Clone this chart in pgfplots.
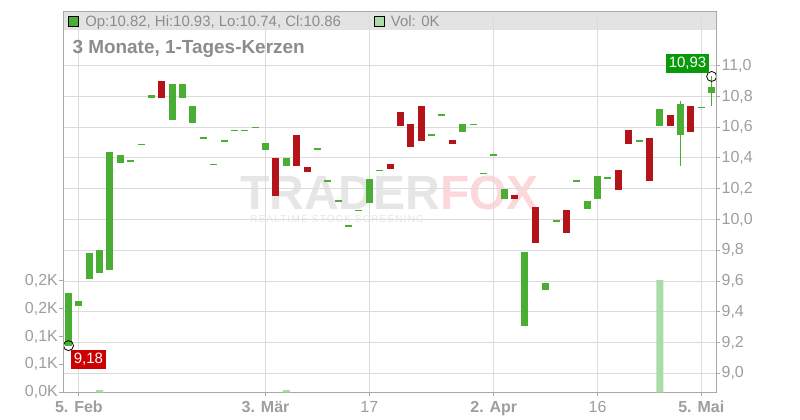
\documentclass[border=0pt]{standalone}
\usepackage{pgfplots}
\pgfplotsset{compat=1.18}
\usepackage{pgfplotstable}
\usepackage{fontspec}
\setmainfont{Liberation Sans}
\definecolor{cgreen}{HTML}{4AAE34}
\definecolor{cred}{HTML}{B41419}
\definecolor{cvol}{HTML}{AADCA8}
\definecolor{cgrid}{HTML}{DCDCDC}
\definecolor{caxis}{HTML}{A8A8A8}
\definecolor{clab}{HTML}{9E9E9E}
\definecolor{ctext}{HTML}{8C8C8C}
\definecolor{cband}{HTML}{E3E3E3}
\definecolor{cwm}{HTML}{E6E6E6}
\definecolor{cwmfox}{HTML}{FCD8DB}
\definecolor{clgreen}{HTML}{089A08}
\definecolor{clred}{HTML}{CC0000}

\pgfplotstableread{
i o c
0 9.18 9.52
1 9.44 9.47
2 9.61 9.78
3 9.65 9.80
4 9.67 10.44
5 10.37 10.42
6 10.38 10.38
7 10.49 10.49
8 10.79 10.81
10 10.65 10.88
11 10.79 10.88
12 10.63 10.74
13 10.53 10.53
14 10.36 10.36
15 10.51 10.51
16 10.58 10.58
17 10.58 10.58
18 10.60 10.60
19 10.45 10.50
21 10.35 10.40
24 10.46 10.46
25 10.25 10.25
26 10.12 10.12
27 9.96 9.96
28 10.06 10.06
29 10.11 10.26
30 10.32 10.32
35 10.55 10.55
36 10.68 10.68
38 10.57 10.62
39 10.62 10.62
40 10.30 10.30
41 10.42 10.42
42 10.13 10.20
44 9.31 9.79
46 9.54 9.59
47 9.99 9.99
49 10.25 10.25
50 10.07 10.12
51 10.13 10.28
52 10.27 10.27
55 10.51 10.51
57 10.61 10.72
59 10.55 10.75
61 10.73 10.73
62 10.82 10.86
}\greentab

\pgfplotstableread{
i o c
9 10.90 10.79
20 10.40 10.15
22 10.55 10.35
23 10.34 10.31
31 10.36 10.33
32 10.70 10.61
33 10.62 10.47
34 10.74 10.51
37 10.52 10.49
43 10.16 10.13
45 10.08 9.85
48 10.06 9.91
53 10.32 10.19
54 10.58 10.49
56 10.53 10.25
58 10.68 10.61
60 10.74 10.57
}\redtab

\pgfplotstableread{
i h l
59 10.77 10.35
62 10.93 10.74
}\wicktab

\pgfplotstableread{
i v
3 4
21 4
57 201
}\voltab

\pgfplotsset{
  base/.style={
    scale only axis, width=489.375pt, height=285.45pt,
    at={(47.625pt,20.775pt)}, anchor=south west,
    xmin=-0.482, xmax=62.42,
    axis line style={color=caxis, line width=0.75pt},
    tick style={color=caxis, line width=0.75pt},
    tick align=outside, major tick length=3pt,
    ticklabel style={font=\fontsize{12pt}{14pt}\selectfont, color=clab},
  }
}

\begin{document}
\begin{tikzpicture}[x=1pt,y=1pt]
\path[use as bounding box] (0,0) rectangle (600,315);
\fill[cband] (47.625,292.5) rectangle (537,306.2);
% watermark
\node[anchor=base west, inner sep=0pt, text depth=0pt, font=\fontsize{36pt}{38pt}\selectfont\bfseries] at (180,157.5)
  {\textcolor{cwm}{TRADER}\textcolor{cwmfox}{FOX}};
\node[anchor=base west, inner sep=0pt, text height=5.5pt, text=cwm, font=\fontsize{7.5pt}{8pt}\selectfont\addfontfeature{LetterSpace=12}] at (187.5,147.8)
  {REALTIME STOCK SCREENING};

\begin{axis}[base,
  ymin=8.8765, ymax=11.351,
  ytick={9,9.2,9.4,9.6,9.8,10,10.2,10.4,10.6,10.8,11},
  yticklabels={9{,}0,9{,}2,9{,}4,9{,}6,9{,}8,10{,}0,10{,}2,10{,}4,10{,}6,10{,}8,11{,}0},
  ytick pos=right, yticklabel pos=right,
  xtick={1,19,29,41,51,61},
  xticklabels={\textbf{5. Feb},\textbf{3. Mär},17,\textbf{2. Apr},16,\textbf{5. Mai}},
  xtick pos=left,
  grid=major, grid style={color=cgrid, line width=0.75pt},
  yticklabel style={inner xsep=1pt},
]
% wicks
\addplot[draw=none, mark=none, forget plot,
  error bars/.cd, y dir=both, y explicit, error mark=none,
  error bar style={draw=cgreen, line width=0.8pt}]
  table[x=i, y expr={(\thisrow{h}+\thisrow{l})/2}, y error expr={(\thisrow{h}-\thisrow{l})/2}] {\wicktab};
% green bodies
\addplot[draw=none, mark=none, forget plot,
  error bars/.cd, y dir=both, y explicit, error mark=none,
  error bar style={draw=cgreen, line width=5.25pt}]
  table[x=i, y expr={(\thisrow{o}+\thisrow{c})/2}, y error expr={max(abs(\thisrow{c}-\thisrow{o})/2,0.0036)}] {\greentab};
% red bodies
\addplot[draw=none, mark=none, forget plot,
  error bars/.cd, y dir=both, y explicit, error mark=none,
  error bar style={draw=cred, line width=5.25pt}]
  table[x=i, y expr={(\thisrow{o}+\thisrow{c})/2}, y error expr={max(abs(\thisrow{c}-\thisrow{o})/2,0.0036)}] {\redtab};
% high marker
\addplot[only marks, mark=o, mark size=3.75pt, black, line width=0.6pt,
  point meta=explicit symbolic, nodes near coords,
  every node near coord/.append style={anchor=south east, xshift=-1.5pt, yshift=2.5pt,
    fill=clgreen, text=white, inner xsep=2.2pt, inner ysep=0pt, minimum height=14.25pt,
    font=\fontsize{11.25pt}{13pt}\selectfont}]
  table[x=i, y=p, meta=t] {
i p t
62 10.93 10,93
};
% low marker
\addplot[only marks, mark=o, mark size=3.75pt, black, line width=0.6pt,
  point meta=explicit symbolic, nodes near coords,
  every node near coord/.append style={anchor=north west, xshift=1.5pt, yshift=-3pt,
    fill=clred, text=white, inner xsep=2.2pt, inner ysep=0pt, minimum height=14.25pt,
    font=\fontsize{11.25pt}{13pt}\selectfont}]
  table[x=i, y=p, meta=t] {
i p t
0 9.18 9,18
};
\end{axis}

\begin{axis}[base,
  ymin=0, ymax=682,
  ytick={0,50,100,150,200},
  yticklabels={0{,}0K,0{,}1K,0{,}1K,0{,}2K,0{,}2K},
  ytick pos=left, yticklabel pos=left,
  xtick=\empty,
  yticklabel style={inner xsep=1pt},
]
\addplot[ybar, bar width=5.25pt, fill=cvol, draw=none] table[x=i, y=v] {\voltab};
\end{axis}

% legend band content and title
\draw[black, line width=0.75pt, fill=cgreen] (51,294.75) rectangle (58.5,302.25);
\node[anchor=base west, inner sep=0pt, text=ctext, font=\fontsize{11.2pt}{13pt}\selectfont] at (63.75,295.1)
  {Op:10.82, Hi:10.93, Lo:10.74, Cl:10.86};
\draw[black, line width=0.75pt, fill=cvol] (280.5,294.75) rectangle (288,302.25);
\node[anchor=base west, inner sep=0pt, text=ctext, font=\fontsize{11.2pt}{13pt}\selectfont] at (293,295.1)
  {Vol: 0K};
\node[anchor=base west, inner sep=0pt, text=ctext, font=\fontsize{14.2pt}{16pt}\selectfont\bfseries] at (54.2,274.5)
  {3 Monate, 1-Tages-Kerzen};
\end{tikzpicture}
\end{document}
